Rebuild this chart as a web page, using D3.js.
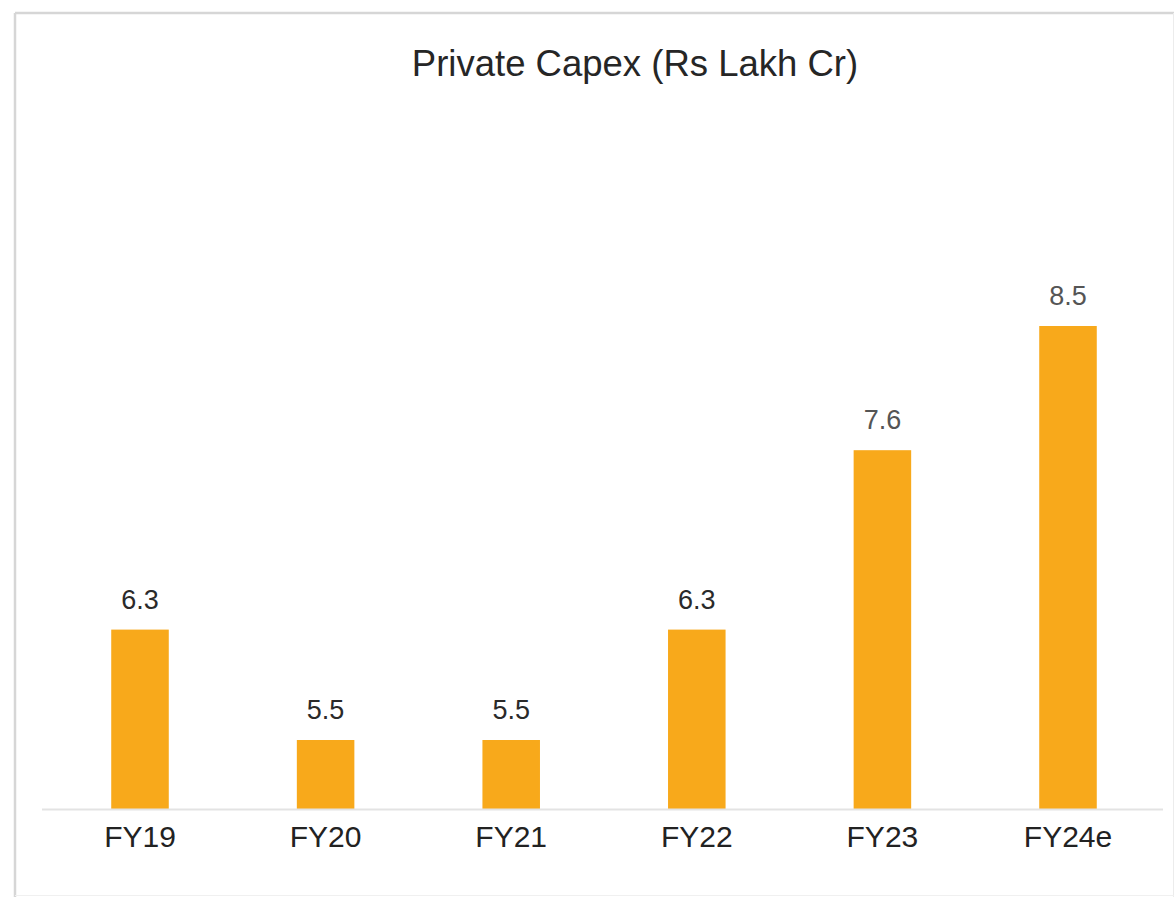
<!DOCTYPE html>
<html>
<head>
<meta charset="utf-8">
<script src="https://cdn.jsdelivr.net/npm/d3@7"></script>
<style>
  html, body { margin: 0; padding: 0; background: #ffffff; }
  svg { display: block; font-family: "Liberation Sans", Arial, Helvetica, sans-serif; }
</style>
</head>
<body>
<script>
// Private capex by fiscal year (Rs lakh crore)
const categories = ["FY19", "FY20", "FY21", "FY22", "FY23", "FY24e"];
const values = [6.3, 5.5, 5.5, 6.3, 7.6, 8.5];
const valueLabels = ["6.3", "5.5", "5.5", "6.3", "7.6", "8.5"];
const title = "Private Capex (Rs Lakh Cr)";

const W = 1176, H = 897;
const svg = d3.select("body").append("svg").attr("width", W).attr("height", H);

// Frame around the panel
svg.append("line").attr("x1", 15).attr("x2", 1174).attr("y1", 13).attr("y2", 13)
  .attr("stroke", "#d6d6d6").attr("stroke-width", 2.5);
svg.append("line").attr("x1", 15).attr("x2", 15).attr("y1", 13).attr("y2", 897)
  .attr("stroke", "#d6d6d6").attr("stroke-width", 2.5);
svg.append("line").attr("x1", 1173.5).attr("x2", 1173.5).attr("y1", 13).attr("y2", 897)
  .attr("stroke", "#ececec").attr("stroke-width", 1);
svg.append("line").attr("x1", 15).attr("x2", 1174).attr("y1", 895.5).attr("y2", 895.5)
  .attr("stroke", "#f0f0f0").attr("stroke-width", 1);

// Title
svg.append("text")
  .attr("x", 635).attr("y", 76)
  .attr("text-anchor", "middle")
  .attr("font-size", 36.5)
  .attr("fill", "#262626")
  .text(title);

// Scales
const x = d3.scaleBand()
  .domain(categories)
  .range([47.2, 1160.8])
  .paddingInner(0.69)
  .paddingOuter(0.345);

const y = d3.scaleLinear()
  .domain([5, 9])
  .range([809, 809 - 4 * 138]);

// Bars
svg.append("g").selectAll("rect")
  .data(values)
  .join("rect")
  .attr("x", (d, i) => x(categories[i]))
  .attr("y", d => y(d))
  .attr("width", x.bandwidth())
  .attr("height", d => y.range()[0] - y(d))
  .attr("fill", "#F8A91B");

// Baseline
svg.append("line")
  .attr("x1", 42).attr("x2", 1163)
  .attr("y1", 809.5).attr("y2", 809.5)
  .attr("stroke", "#e3e3e3").attr("stroke-width", 2);

// Value labels
svg.append("g").selectAll("text")
  .data(values)
  .join("text")
  .attr("x", (d, i) => x(categories[i]) + x.bandwidth() / 2)
  .attr("y", d => y(d) - 21)
  .attr("text-anchor", "middle")
  .attr("font-size", 27)
  .attr("fill", (d, i) => i >= 4 ? "#555555" : "#2a2a2a")
  .text((d, i) => valueLabels[i]);

// Category axis labels
const xAxis = d3.axisBottom(x).tickSize(0).tickPadding(0);
const gx = svg.append("g").attr("transform", "translate(0,809)").call(xAxis);
gx.select(".domain").remove();
gx.selectAll("text")
  .attr("dy", null)
  .attr("y", 38)
  .attr("font-size", 30)
  .attr("font-family", "'Liberation Sans', Arial, Helvetica, sans-serif")
  .attr("fill", "#222222");
</script>
</body>
</html>
